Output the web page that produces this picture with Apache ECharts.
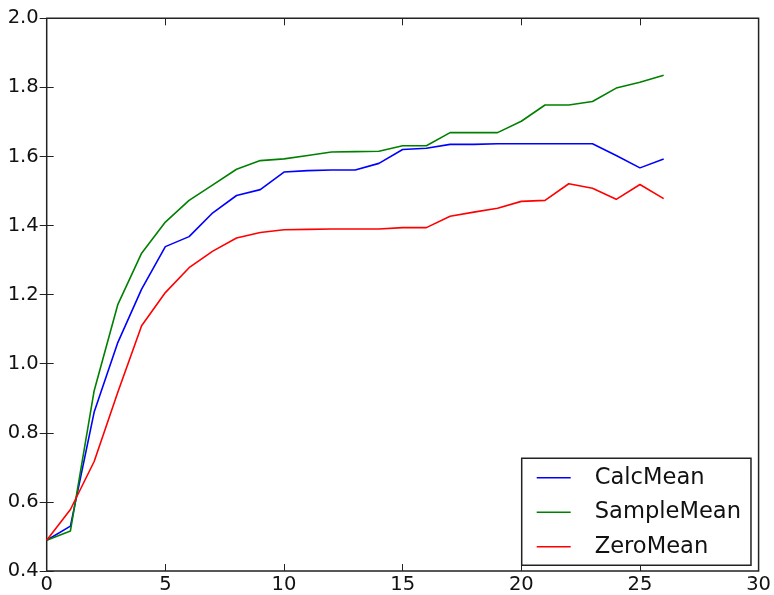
<!DOCTYPE html>
<html>
<head>
<meta charset="utf-8">
<script src="https://cdn.jsdelivr.net/npm/echarts@6/dist/echarts.min.js"></script>
<style>
  html, body { margin: 0; padding: 0; background: #fff; }
  #chart { width: 774px; height: 595px; }
</style>
</head>
<body>
<div id="chart"></div>
<script>
// Iteration index along the x axis
const steps = [0, 1, 2, 3, 4, 5, 6, 7, 8, 9, 10, 11, 12, 13, 14, 15, 16, 17, 18, 19, 20, 21, 22, 23, 24, 25, 26];

// Estimated mean per iteration for each strategy
const calcMean = [0.489, 0.530, 0.860, 1.062, 1.216, 1.339, 1.368, 1.437, 1.487, 1.504, 1.555, 1.559, 1.561, 1.561, 1.580, 1.620, 1.624, 1.635, 1.635, 1.637, 1.637, 1.637, 1.637, 1.637, 1.603, 1.567, 1.593];
const sampleMean = [0.489, 0.516, 0.922, 1.172, 1.320, 1.410, 1.473, 1.518, 1.563, 1.588, 1.593, 1.603, 1.613, 1.614, 1.615, 1.631, 1.631, 1.669, 1.669, 1.669, 1.702, 1.749, 1.749, 1.759, 1.798, 1.815, 1.835];
const zeroMean = [0.489, 0.578, 0.717, 0.918, 1.110, 1.206, 1.278, 1.326, 1.364, 1.380, 1.388, 1.389, 1.390, 1.390, 1.390, 1.394, 1.394, 1.427, 1.439, 1.450, 1.470, 1.473, 1.521, 1.508, 1.476, 1.519, 1.478];

const seriesNames = ['CalcMean', 'SampleMean', 'ZeroMean'];
const seriesColors = ['#0000ff', '#008000', '#ff0000'];
const seriesValues = [calcMean, sampleMean, zeroMean];

// Axis ranges and tick spacing
const xMin = 0, xMax = 30, xStep = 5;
const yMin = 0.4, yMax = 2.0, yStep = 0.2;

const FONT = 'DejaVu Sans';
const tickStyle = { show: true, inside: true, length: 7, lineStyle: { color: '#222', width: 1 } };

function pairs(values) {
  return steps.map((s, i) => [s, values[i]]);
}

const chart = echarts.init(document.getElementById('chart'), null, { renderer: 'canvas' });

chart.setOption({
  animation: false,
  backgroundColor: '#fff',
  grid: {
    left: 46.7, right: 11.3, top: 18.3, bottom: 22.3,
    show: true, borderColor: '#222', borderWidth: 1.5, backgroundColor: 'transparent'
  },
  xAxis: [
    {
      type: 'value', position: 'bottom', min: xMin, max: xMax, interval: xStep,
      axisLine: { show: false }, splitLine: { show: false },
      axisTick: tickStyle,
      axisLabel: { show: true, margin: 4, color: '#111', fontFamily: FONT, fontSize: 19.5, showMinLabel: true, showMaxLabel: true }
    },
    {
      type: 'value', position: 'top', min: xMin, max: xMax, interval: xStep,
      axisLine: { show: false }, splitLine: { show: false },
      axisTick: tickStyle, axisLabel: { show: false }
    }
  ],
  yAxis: [
    {
      type: 'value', position: 'left', min: yMin, max: yMax, interval: yStep,
      axisLine: { show: false }, splitLine: { show: false },
      axisTick: tickStyle,
      axisLabel: {
        show: true, margin: 8, color: '#111', fontFamily: FONT, fontSize: 19.5,
        showMinLabel: true, showMaxLabel: true,
        formatter: v => v.toFixed(1)
      }
    },
    {
      type: 'value', position: 'right', min: yMin, max: yMax, interval: yStep,
      axisLine: { show: false }, splitLine: { show: false },
      axisTick: tickStyle, axisLabel: { show: false }
    }
  ],
  legend: {
    orient: 'vertical',
    left: 521.7, top: 458.3,
    padding: [8, 10, 7, 15],
    itemWidth: 34, itemHeight: 22, itemGap: 11.5,
    borderColor: '#222', borderWidth: 1.5, borderRadius: 0,
    backgroundColor: '#fff',
    icon: 'path://M0,10 L34,10 L34,11.5 L0,11.5 Z',
    data: seriesNames.map((n, i) => ({ name: n, itemStyle: { color: seriesColors[i] } })),
    textStyle: { fontFamily: FONT, fontSize: 22.6, color: '#111', padding: [0, 0, 0, 19], lineHeight: 22 }
  },
  series: seriesNames.map((name, i) => ({
    name: name,
    type: 'line',
    xAxisIndex: 0, yAxisIndex: 0,
    data: pairs(seriesValues[i]),
    showSymbol: false, symbol: 'none',
    lineStyle: { color: seriesColors[i], width: 1.6 },
    itemStyle: { color: seriesColors[i] },
    z: 3
  }))
});
</script>
</body>
</html>
